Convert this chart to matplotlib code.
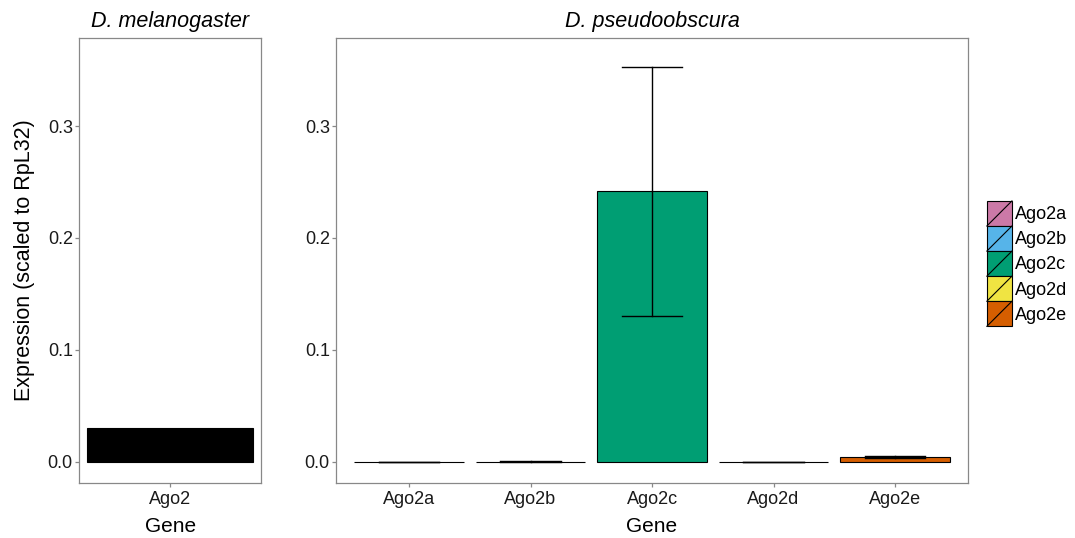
import matplotlib
matplotlib.use('Agg')
import matplotlib.pyplot as plt
from matplotlib.patches import Rectangle
from matplotlib.lines import Line2D
from matplotlib.legend_handler import HandlerBase

plt.rcParams['font.family'] = ['Liberation Sans', 'DejaVu Sans']

# expression relative to RpL32, mean and error bar limits
mel_genes = ['Ago2']
mel_expr = [0.0305]

pse_genes = ['Ago2a', 'Ago2b', 'Ago2c', 'Ago2d', 'Ago2e']
pse_expr = [0.0002, 0.0004, 0.242, 0.0001, 0.0042]
pse_err_lo = [0.0001, 0.0002, 0.1305, 0.0001, 0.0035]
pse_err_hi = [0.0003, 0.0006, 0.3530, 0.0002, 0.0056]
pse_colors = ['#CC79A7', '#56B4E9', '#009E73', '#F0E442', '#D55E00']

yticks = [0.0, 0.1, 0.2, 0.3]
ylim = (-0.0188, 0.3786)
frame_col = '#888888'


class SlashKey(HandlerBase):
    def create_artists(self, legend, orig_handle, xdescent, ydescent,
                       width, height, fontsize, trans):
        box = Rectangle((-xdescent, -ydescent), width, height,
                        facecolor=orig_handle.get_facecolor(),
                        edgecolor='black', lw=0.8, transform=trans)
        diag = Line2D([-xdescent, -xdescent + width],
                      [-ydescent, -ydescent + height],
                      color='black', lw=0.8, transform=trans)
        return [box, diag]


def style_axis(ax):
    for s in ax.spines.values():
        s.set_color(frame_col)
        s.set_linewidth(0.9)
    ax.tick_params(colors=frame_col, labelcolor='#1a1a1a', labelsize=13,
                   length=3, width=0.9)
    ax.tick_params(axis='x', pad=2.5)
    ax.tick_params(axis='y', pad=1.5)
    ax.set_ylim(*ylim)
    ax.set_yticks(yticks)
    ax.set_yticklabels(['%.1f' % t for t in yticks])
    ax.set_xlabel('Gene', fontsize=15, labelpad=7)


fig = plt.figure(figsize=(10.75, 5.38), dpi=100)

ax1 = fig.add_axes([0.0735, 0.1022, 0.1695, 0.8272])
ax1.bar([1], mel_expr, width=1.09, color='black', edgecolor='black', lw=0.8)
ax1.set_xlim(0.4, 1.6)
ax1.set_xticks([1])
ax1.set_xticklabels(mel_genes)
style_axis(ax1)
ax1.set_ylabel('Expression (scaled to RpL32)', fontsize=15.5, labelpad=9)
ax1.set_title('D. melanogaster', fontsize=15.5, style='italic', pad=8)

ax2 = fig.add_axes([0.3126, 0.1022, 0.5879, 0.8272])
xs = range(1, len(pse_genes) + 1)
ax2.bar(xs, pse_expr, width=0.9, color=pse_colors, edgecolor='black', lw=0.8)
for x, lo, hi in zip(xs, pse_err_lo, pse_err_hi):
    ax2.plot([x, x], [lo, hi], color='black', lw=1)
    ax2.plot([x - 0.25, x + 0.25], [lo, lo], color='black', lw=1)
    ax2.plot([x - 0.25, x + 0.25], [hi, hi], color='black', lw=1)
ax2.set_xlim(0.4, 5.6)
ax2.set_xticks(list(xs))
ax2.set_xticklabels(pse_genes)
style_axis(ax2)
ax2.set_title('D. pseudoobscura', fontsize=15.5, style='italic', pad=8)

handles = [Rectangle((0, 0), 1, 1, facecolor=c) for c in pse_colors]
fig.legend(handles, pse_genes, handler_map={Rectangle: SlashKey()},
           loc='center left', bbox_to_anchor=(0.918, 0.51),
           frameon=False, fontsize=13, handlelength=1.39, handleheight=1.76,
           labelspacing=0.0, handletextpad=0.17, borderpad=0, borderaxespad=0)

fig.savefig('out.png', dpi=100)
